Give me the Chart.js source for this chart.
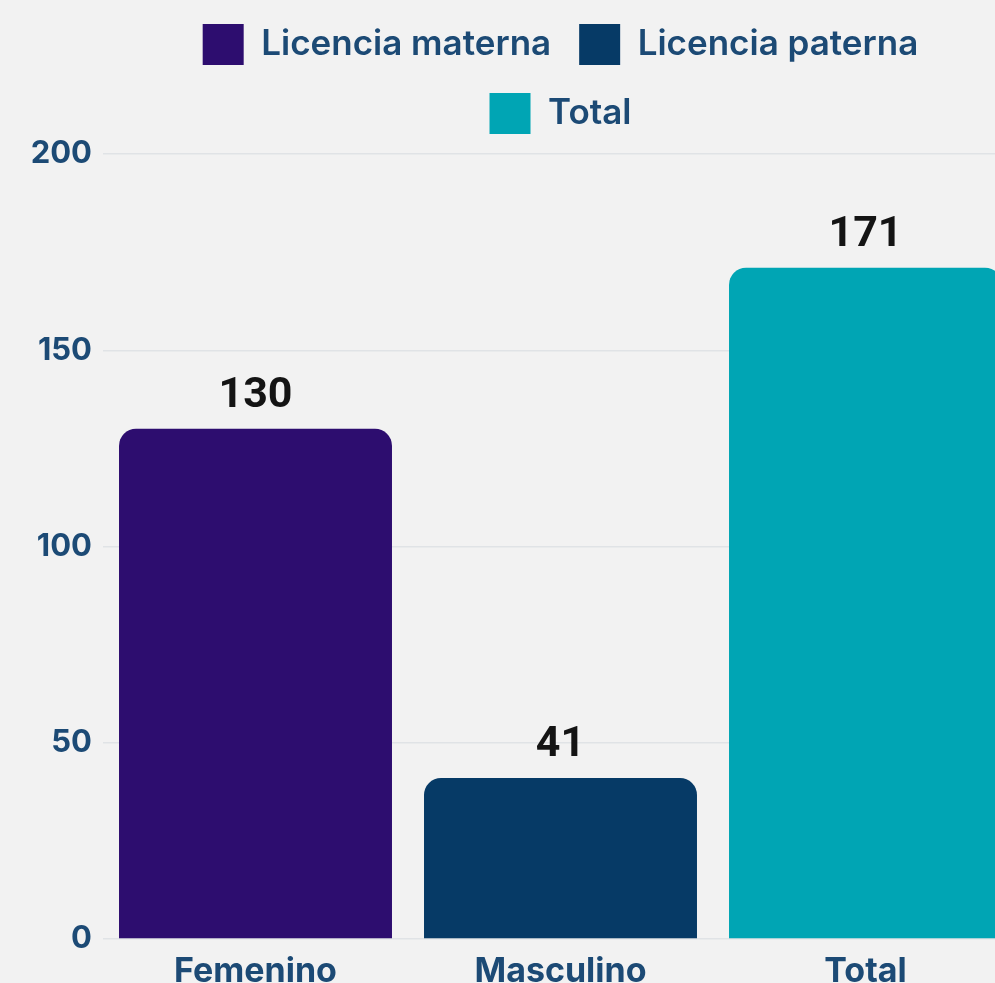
<!DOCTYPE html>
<html>
<head>
<meta charset="utf-8">
<script src="https://cdn.jsdelivr.net/npm/chart.js@4"></script>
<style>
  html, body { margin: 0; padding: 0; background: #f2f2f2; overflow: hidden; }
  #wrap { width: 1020px; height: 1000px; position: relative; top: -4px; }
</style>
</head>
<body>
<div id="wrap"><canvas id="chart"></canvas></div>
<script>
const categories = ['Femenino', 'Masculino', 'Total'];
const seriesNames = ['Licencia materna', 'Licencia paterna', 'Total'];
const maternaValues = [130, null, null];
const paternaValues = [null, 41, null];
const totalValues = [null, null, 171];
const yTicks = [0, 50, 100, 150, 200];

const colors = ['#2d0d6f', '#063a66', '#00a5b4'];
const textBlue = '#1c4a75';
const font = "Inter, 'Open Sans', sans-serif";

// value labels above each bar
const valueLabels = {
    id: 'valueLabels',
    afterDatasetsDraw(chart) {
        const ctx = chart.ctx;
        ctx.save();
        ctx.font = `700 43px Roboto, sans-serif`;
        ctx.fillStyle = '#141414';
        ctx.textAlign = 'center';
        ctx.textBaseline = 'alphabetic';
        chart.data.datasets.forEach((ds, i) => {
            chart.getDatasetMeta(i).data.forEach((bar, j) => {
                const v = ds.data[j];
                if (v === null) return;
                ctx.fillText(v, bar.x, bar.y - 22);
            });
        });
        ctx.restore();
    }
};

// legend breaks into two rows like the original (two items, then Total),
// with a little extra room under it
const legendRowWidth = 820;
const legendExtraGap = 10;
const legendWrap = {
    id: 'legendWrap',
    beforeLayout(chart) {
        const legend = chart.legend;
        if (!legend || legend._wrapped) return;
        const fitRows = legend._fitRows;
        legend._fitRows = function (...args) {
            const full = this.maxWidth;
            this.maxWidth = Math.min(full, legendRowWidth);
            const h = fitRows.apply(this, args);
            this.maxWidth = full;
            return h + legendExtraGap;
        };
        legend._wrapped = true;
    }
};

const seriesValues = [maternaValues, paternaValues, totalValues];

new Chart(document.getElementById('chart'), {
    type: 'bar',
    data: {
        labels: categories,
        datasets: seriesNames.map((name, i) => ({
            label: name,
            data: seriesValues[i],
            backgroundColor: colors[i],
            borderRadius: 17,
            borderSkipped: 'start',
            categoryPercentage: 1,
            barPercentage: 0.895
        }))
    },
    options: {
        responsive: true,
        maintainAspectRatio: false,
        animation: false,
        layout: { padding: { top: 0, right: 2, bottom: 0, left: 0 } },
        plugins: {
            legend: {
                position: 'top',
                fullSize: false,
                labels: {
                    boxWidth: 41,
                    boxHeight: 41,
                    padding: 28,
                    color: textBlue,
                    font: { family: font, size: 35, weight: '600' }
                }
            },
            tooltip: { enabled: false }
        },
        scales: {
            x: {
                stacked: true,
                afterFit: (s) => { s.height = 57; },
                grid: { display: false, drawTicks: false },
                border: { display: false },
                ticks: {
                    color: textBlue,
                    padding: 12,
                    font: { family: font, size: 34, weight: '700' }
                }
            },
            y: {
                stacked: true,
                min: 0,
                max: 200,
                afterBuildTicks: (s) => { s.ticks = yTicks.map(v => ({ value: v })); },
                afterFit: (s) => { s.width = 103; },
                grid: { color: '#e0e3e6', lineWidth: 1.5, drawTicks: false },
                border: { display: false },
                ticks: {
                    color: textBlue,
                    padding: 11,
                    font: { family: font, size: 31, weight: '700' }
                }
            }
        }
    },
    plugins: [valueLabels, legendWrap]
});
</script>
</body>
</html>
